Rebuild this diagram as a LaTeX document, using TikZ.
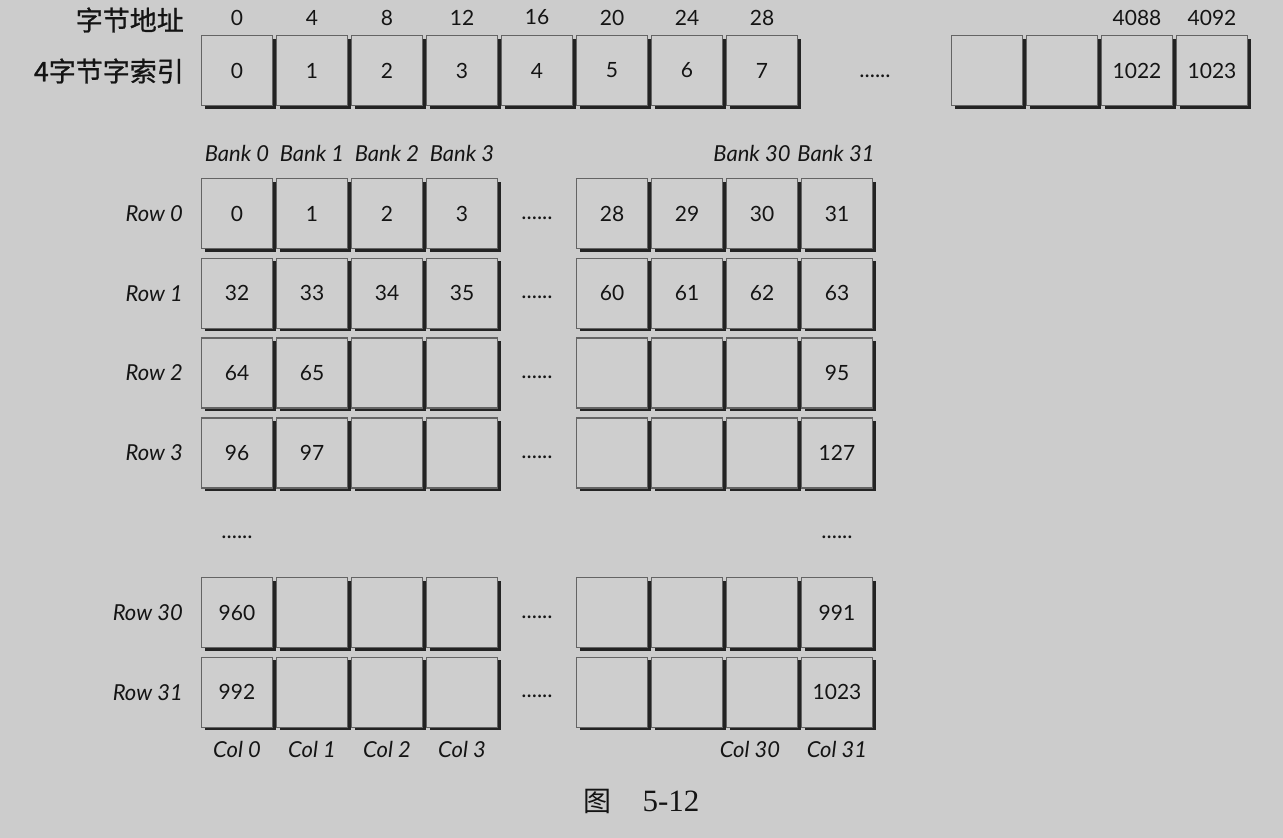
\documentclass[tikz,border=0pt]{standalone}
\usepackage{fontspec}
\setmainfont{Lato}
\newfontfamily\cjk{Noto Sans CJK SC}
\newfontfamily\cjkhead[FakeBold=0.8]{Noto Sans CJK SC}
\newfontfamily\capserif{Liberation Serif}
\usetikzlibrary{shadows}
\definecolor{bgc}{RGB}{204,204,204}
\definecolor{cellfill}{RGB}{206,206,206}
\definecolor{cellborder}{RGB}{100,100,100}
\definecolor{shadowc}{RGB}{35,35,35}
\definecolor{txt}{RGB}{20,20,20}
\begin{document}
\begin{tikzpicture}[x=1pt,y=-1pt,
  cell/.style={draw=cellborder, line width=1.4pt, fill=cellfill,
    minimum width=71pt, minimum height=70pt, inner sep=0pt,
    text=txt, font=\fontsize{21}{24}\selectfont,
    general shadow={fill=shadowc, shadow xshift=3pt, shadow yshift=-3pt}},
  num/.style={text=txt, inner sep=0pt, font=\fontsize{21}{24}\selectfont},
  lab/.style={text=txt, inner sep=0pt, font=\fontsize{22}{24}\selectfont\itshape},
  cjklab/.style={text=txt, inner sep=0pt, anchor=east, font=\fontsize{27}{30}\selectfont\cjkhead},
  dots/.style={text=txt, inner sep=0pt, anchor=base, font=\fontsize{22}{24}\selectfont}]
\fill[bgc] (0,0) rectangle (1283,838);
\useasboundingbox (0,0) rectangle (1283,838);

% top labels
\node[cjklab] (hdrA) at (184,20) {字节地址};
\node[cjklab] (hdrB) at (184,71) {4字节字索引};

% top row of word cells
\foreach \i in {0,...,7}{
  \pgfmathtruncatemacro{\addr}{4*\i}
  \node[num] (addr\i) at ({237+75*\i},17.5) {\addr};
  \node[cell] (w\i) at ({237+75*\i},70.5) {\i};
}
\node[dots] (wdots) at (875,77.5) {......};
\node[cell] (wa) at (987,70.5) {};
\node[cell] (wb) at (1062,70.5) {};
\node[cell] (wc) at (1137,70.5) {1022};
\node[cell] (wd) at (1212,70.5) {1023};
\node[num] (addrc) at (1137,17.5) {4088};
\node[num] (addrd) at (1212,17.5) {4092};

% bank labels
\foreach \c in {0,...,3}{
  \node[lab] (bank\c) at ({237+75*\c},153) {Bank \c};
}
\node[lab] (bank30) at (752,153) {Bank 30};
\node[lab] (bank31) at (836,153) {Bank 31};

% matrix rows
\foreach \r/\y/\name/\va/\vb/\vc/\vd/\ve/\vf/\vg/\vh in {
  0/213.5/Row 0/0/1/2/3/28/29/30/31,
  1/293.3/Row 1/32/33/34/35/60/61/62/63,
  2/373.1/Row 2/64/65/{}/{}/{}/{}/{}/95,
  3/452.9/Row 3/96/97/{}/{}/{}/{}/{}/127,
  30/612.5/Row 30/960/{}/{}/{}/{}/{}/{}/991,
  31/692.3/Row 31/992/{}/{}/{}/{}/{}/{}/1023}{
  \node[lab, anchor=east] (row\r) at (183,\y) {\name};
  \node[cell] (c\r-0) at (237,\y) {\va};
  \node[cell] (c\r-1) at (312,\y) {\vb};
  \node[cell] (c\r-2) at (387,\y) {\vc};
  \node[cell] (c\r-3) at (462,\y) {\vd};
  \node[dots] (d\r) at (537,\y+5.5) {......};
  \node[cell] (c\r-28) at (612,\y) {\ve};
  \node[cell] (c\r-29) at (687,\y) {\vf};
  \node[cell] (c\r-30) at (762,\y) {\vg};
  \node[cell] (c\r-31) at (837,\y) {\vh};
}
\node[dots] (vdotsA) at (237,538) {......};
\node[dots] (vdotsB) at (837,538) {......};

% column labels
\foreach \c in {0,...,3}{
  \node[lab] (col\c) at ({237+75*\c},749) {Col \c};
}
\node[lab] (col30) at (750,749) {Col 30};
\node[lab] (col31) at (837,749) {Col 31};

% caption
\node[text=txt, inner sep=0pt, font=\fontsize{28}{30}\selectfont\cjk] (figA) at (597,801) {图};
\node[text=txt, inner sep=0pt, font=\fontsize{31}{34}\selectfont\capserif] (figB) at (671,801) {5-12};
\end{tikzpicture}
\end{document}
